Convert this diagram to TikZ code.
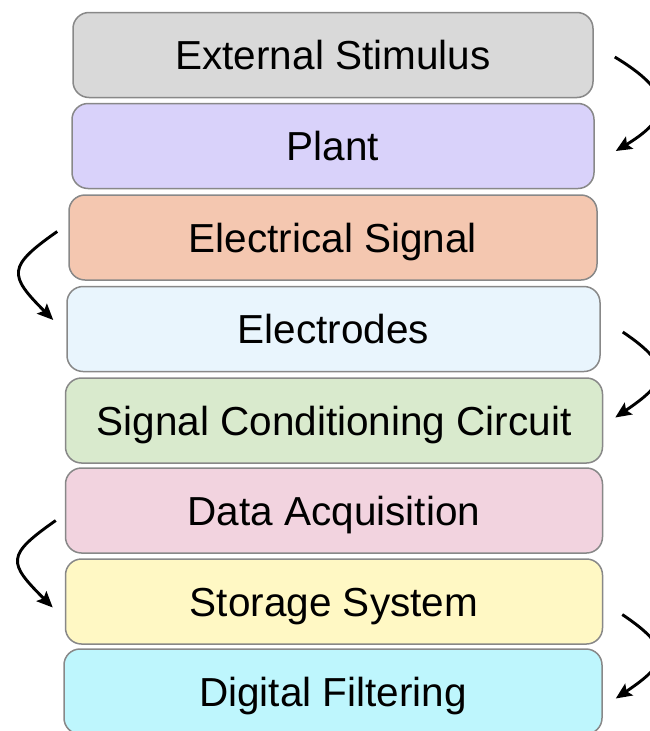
\documentclass[tikz,border=0pt]{standalone}
\usepackage{fontspec}
\setmainfont{Liberation Sans}
\usetikzlibrary{arrows.meta,calc}
\definecolor{boxline}{RGB}{136,136,136}
\definecolor{stimgray}{RGB}{217,217,217}
\definecolor{plantlav}{RGB}{217,210,250}
\definecolor{sigsalmon}{RGB}{244,199,176}
\definecolor{elecblue}{RGB}{233,245,253}
\definecolor{condgreen}{RGB}{217,234,205}
\definecolor{acqpink}{RGB}{242,211,223}
\definecolor{storyellow}{RGB}{255,248,196}
\definecolor{filtcyan}{RGB}{190,246,253}

\begin{document}
\begin{tikzpicture}[x=1pt,y=1pt,
stage/.style={draw=boxline,line width=1.5pt,rounded corners=16pt,minimum height=85pt,inner sep=0pt,text height=29pt,text depth=0pt,font=\fontsize{40.5}{48}\selectfont},
flow/.style={-{Stealth[length=16pt,width=14pt,inset=3pt]},line width=2.9pt}]
\useasboundingbox (0,0) rectangle (650,-731);
\clip (0,0) rectangle (650,-731);
\foreach \nm/\x/\y/\w/\col/\lab in {stim/333/55/520/stimgray/External Stimulus,
  plant/333/146/522/plantlav/Plant,
  sig/333/237.5/528/sigsalmon/Electrical Signal,
  elec/333.5/329/533/elecblue/Electrodes,
  cond/334/420.5/537/condgreen/Signal Conditioning Circuit,
  acq/334/510.5/537/acqpink/Data Acquisition,
  stor/334/601.5/537/storyellow/Storage System,
  filt/333/691.5/538/filtcyan/Digital Filtering}{
\node[stage,fill=\col,minimum width=\w pt] (\nm) at (\x,-\y){\lab};
}
\draw[flow] ([shift={(21,-2)}]stim.east) .. controls +(58,-35) and +(58,35) .. ([shift={(21,-5)}]plant.east);
\draw[flow] ([shift={(-11,6)}]sig.west) .. controls +(-50,-35) and +(-45,45) .. ([shift={(-13,9)}]elec.west);
\draw[flow] ([shift={(22,-3)}]elec.east) .. controls +(52,-35) and +(52,35) .. ([shift={(12,3)}]cond.east);
\draw[flow] ([shift={(-9,-10)}]acq.west) .. controls +(-50,-35) and +(-45,45) .. ([shift={(-12,-6)}]stor.west);
\draw[flow] ([shift={(19,-13)}]stor.east) .. controls +(52,-35) and +(52,35) .. ([shift={(13,-7)}]filt.east);
\end{tikzpicture}
\end{document}
